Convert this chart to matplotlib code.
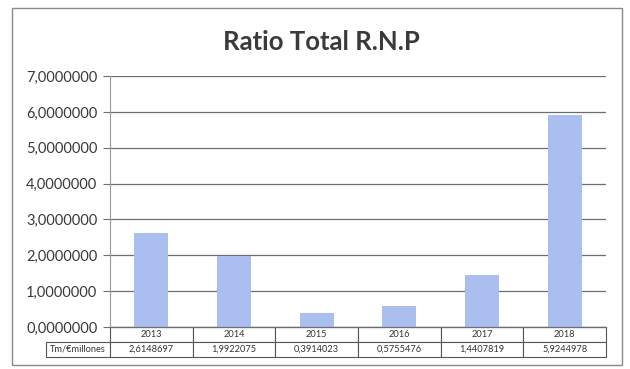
import matplotlib.pyplot as plt
import matplotlib.ticker as ticker
from matplotlib.patches import Rectangle

# Ratio per year (Tm / € millones)
years = ["2013", "2014", "2015", "2016", "2017", "2018"]
ratio = [2.6148697, 1.9922075, 0.3914023, 0.5755476, 1.4407819, 5.9244978]
row_label = "Tm/€millones"
title = "Ratio Total R.N.P"

plt.rcParams['font.family'] = ['Lato', 'DejaVu Sans']
text_color = '#3a3a3a'
line_color = '#6e6e6e'

fig = plt.figure(figsize=(6.3, 3.69), dpi=100)
ax = fig.add_axes([0.1746, 0.1138, 0.7873, 0.680])

x = range(len(years))
ax.bar(x, ratio, width=0.41, color='#aabff0', zorder=2)

ax.set_xlim(-0.5, len(years) - 0.5)
ax.set_ylim(0, 7)
ax.yaxis.set_major_locator(ticker.MultipleLocator(1))
ax.yaxis.set_major_formatter(ticker.FuncFormatter(lambda v, p: f"{v:.7f}".replace('.', ',')))
ax.set_xticks([])
ax.tick_params(axis='y', length=5, width=0.8, color=line_color,
               labelsize=10.5, labelcolor=text_color, pad=4)
ax.grid(axis='y', color=line_color, linewidth=0.9, zorder=1)

for side in ['top', 'right']:
    ax.spines[side].set_visible(False)
ax.spines['left'].set_color('#9a9a9a')
ax.spines['left'].set_linewidth(0.8)
ax.spines['bottom'].set_color(line_color)
ax.spines['bottom'].set_linewidth(0.9)

# data table under the bars
head_w = 0.129
cells = [[""] + years, [row_label] + [f"{v:.7f}".replace('.', ',') for v in ratio]]
col_w = [head_w] + [1 / len(years)] * len(years)
tbl = ax.table(cellText=cells, colWidths=col_w, cellLoc='center',
               bbox=[-head_w, -0.1195, 1 + head_w, 0.1195])
tbl.auto_set_font_size(False)
tbl.set_fontsize(6.7)
for (r, c), cell in tbl.get_celld().items():
    cell.set_edgecolor('#555555')
    cell.set_linewidth(0.8)
    cell.get_text().set_color('#333333')
    if r == 0 and c == 0:
        cell.set_visible(False)

fig.text(0.51, 0.886, title, ha='center', va='center',
         fontsize=18.5, fontweight='bold', color=text_color)

# outer frame
fig.patches.append(Rectangle((12 / 630, 1 - 365 / 369), 610 / 630, 357 / 369,
                             transform=fig.transFigure, fill=False,
                             edgecolor='#8a8a8a', linewidth=1))

fig.savefig("out.png", dpi=100)
